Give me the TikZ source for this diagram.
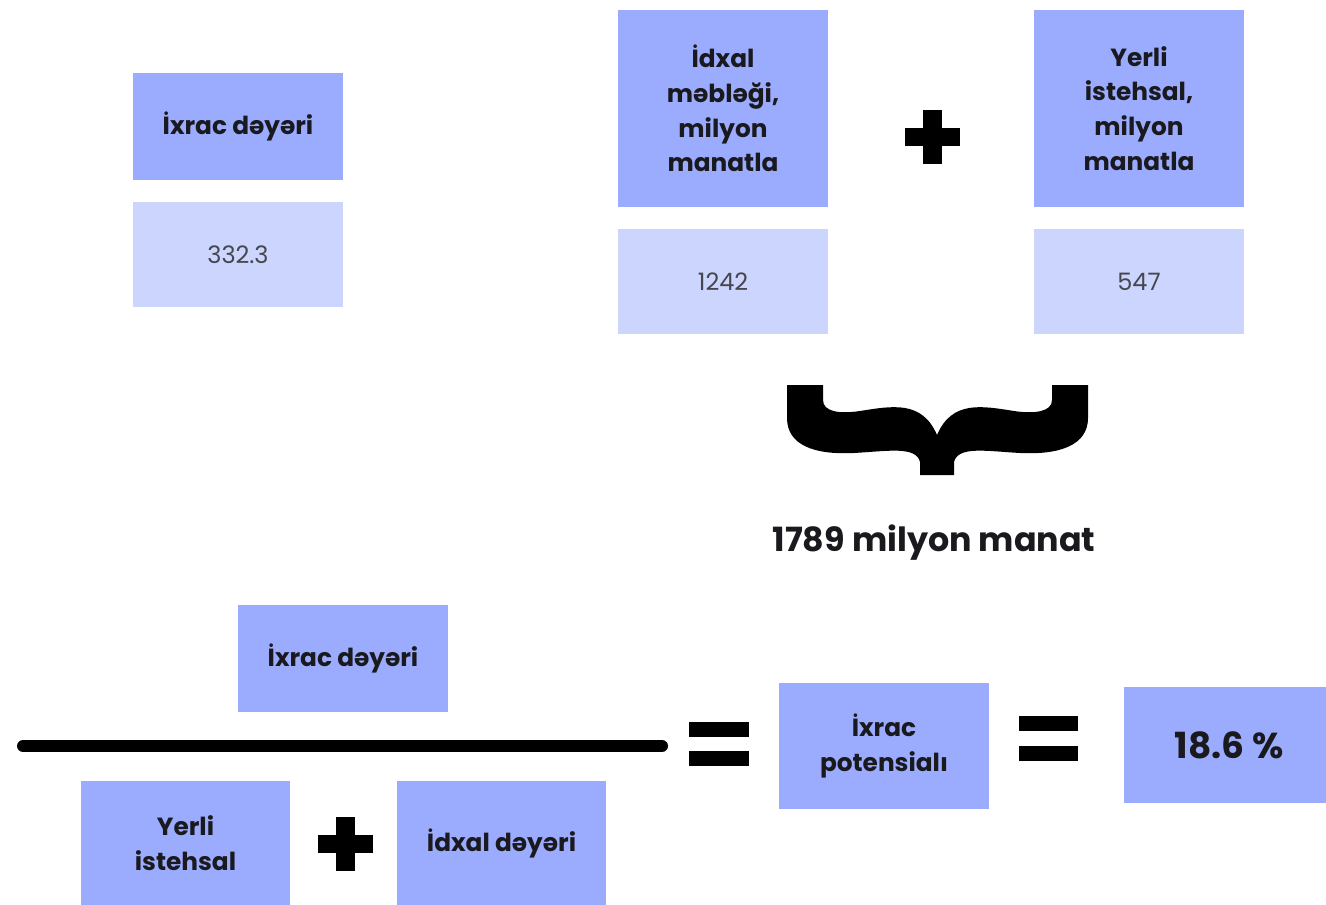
\documentclass[tikz,border=0pt]{standalone}
\usepackage{fontspec}
\setmainfont{Poppins}
\definecolor{boxdark}{RGB}{155,171,254}
\definecolor{boxlight}{RGB}{204,213,254}
\definecolor{txt}{RGB}{25,25,30}
\definecolor{numtxt}{RGB}{70,70,78}
\begin{document}
\begin{tikzpicture}[x=0.75pt,y=-0.75pt,
  hdr/.style={fill=boxdark,inner sep=0pt,align=center,text=txt,
    font=\bfseries\fontsize{18.6}{26}\selectfont},
  val/.style={fill=boxlight,inner sep=0pt,align=center,text=numtxt,
    font=\fontsize{18}{20}\selectfont},
  wbox/.style={minimum width=157.5pt},
  sym/.style={fill=black}]
\useasboundingbox (0,0) rectangle (1326,905);
% top left
\node[hdr,wbox,minimum height=80.25pt] (hA) at (238,126.5) {İxrac dəyəri};
\node[val,wbox,minimum height=78.75pt] (vA) at (238,254.5) {332.3};
% top right
\node[hdr,wbox,minimum height=147.75pt] (hI) at (723,108.5) {İdxal\\məbləği,\\milyon\\manatla};
\node[val,wbox,minimum height=78.75pt] (vI) at (723,281.5) {1242};
\node[hdr,wbox,minimum height=147.75pt] (hY) at (1139,108.5) {Yerli\\istehsal,\\milyon\\manatla};
\node[val,wbox,minimum height=78.75pt] (vY) at (1139,281.5) {547};
% plus top
\fill[sym] (905,128) rectangle (960,146);
\fill[sym] (923,110) rectangle (942,164);
% brace
\fill[sym] (787,385) -- (823,385) -- (823,400)
  .. controls (823,412) and (840,414) .. (860,411)
  .. controls (892,406) and (922,400) .. (937,435)
  .. controls (952,400) and (982,406) .. (1014,411)
  .. controls (1034,414) and (1052,412) .. (1052,400)
  -- (1052,385) -- (1088,385) -- (1088,418)
  .. controls (1088,445) and (1060,455) .. (1020,453)
  .. controls (985,451) and (958,446) .. (954,462)
  -- (954,475) -- (920,475) -- (920,462)
  .. controls (916,446) and (889,451) .. (854,453)
  .. controls (814,455) and (787,445) .. (787,418) -- cycle;
\node[text=txt,font=\bfseries\fontsize{25}{30}\selectfont,inner sep=0pt] (sum) at (934,543) {1789 milyon manat};
% fraction
\node[hdr,wbox,minimum height=80.25pt] (nX) at (343,658.5) {İxrac dəyəri};
\draw[line width=9pt,line cap=round] (23,746) -- (662,746);
\node[hdr,minimum width=156.75pt,minimum height=93pt] (dY) at (185.5,843) {Yerli\\istehsal};
\fill[sym] (318,835) rectangle (373,853);
\fill[sym] (336,817) rectangle (355,871);
\node[hdr,minimum width=156.75pt,minimum height=93pt] (dI) at (501.5,843) {İdxal dəyəri};
% equals
\fill[sym] (689,722) rectangle (749,737);
\fill[sym] (689,751) rectangle (749,766);
\node[hdr,wbox,minimum height=94.5pt] (pot) at (884,746) {İxrac\\potensialı};
\fill[sym] (1019,716) rectangle (1078,731);
\fill[sym] (1019,746) rectangle (1078,761);
\node[hdr,wbox,minimum height=87pt,font=\bfseries\fontsize{27}{30}\selectfont] (res) at (1229,745) {18.6 \%};
\end{tikzpicture}
\end{document}
